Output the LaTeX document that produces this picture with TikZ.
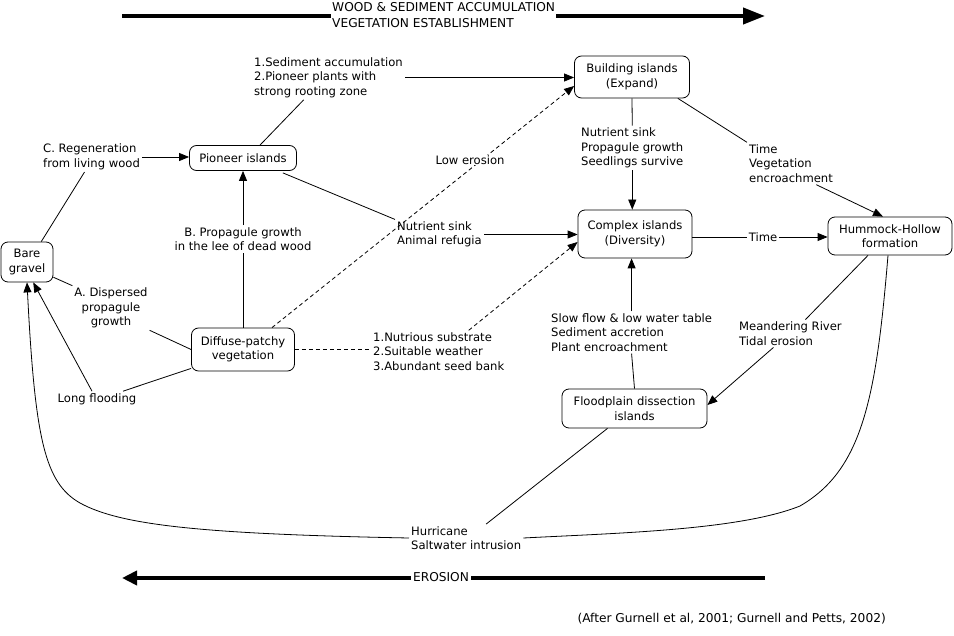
\documentclass[tikz,border=0pt]{standalone}
\usepackage{fontspec}
\setmainfont{DejaVu Sans}
\usetikzlibrary{arrows.meta,calc}
\begin{document}
\begin{tikzpicture}[x=1pt,y=-1pt,
  every node/.style={font=\fontsize{11.6}{14.5}\selectfont},
  box/.style={draw,rounded corners=7pt,line width=0.8pt,align=center,inner sep=0pt},
  lbl/.style={align=left,inner sep=2pt},
  lblc/.style={align=center,inner sep=2pt},
  wide/.style={font=\fontsize{12.2}{15.5}\selectfont},
  ln/.style={line width=0.8pt},
  arr/.style={ln,-{Triangle[length=10pt,width=8pt]}},
  dsh/.style={ln,dash pattern=on 4pt off 3pt},
  big/.style={line width=4pt},
]
\useasboundingbox (0,0) rectangle (954,636);
% boxes
\node[box,minimum width=52pt,minimum height=40pt] (bare) at (27,262) {Bare\\gravel};
\node[box,minimum width=107pt,minimum height=25pt] (pio) at (243,158) {Pioneer islands};
\node[box,minimum width=103pt,minimum height=43pt] (diff) at (243,349.5) {Diffuse-patchy\\vegetation};
\node[box,minimum width=115pt,minimum height=42pt] (build) at (632,77) {Building islands\\(Expand)};
\node[box,minimum width=114pt,minimum height=48pt] (cplx) at (635,234) {Complex islands\\(Diversity)};
\node[box,minimum width=124pt,minimum height=38pt] (hum) at (890,236) {Hummock-Hollow\\formation};
\node[box,minimum width=145pt,minimum height=39pt] (fp) at (634.5,408.5) {Floodplain dissection\\islands};
% labels
\node[lbl,anchor=west] (sedl) at (252,77.5) {1.Sediment accumulation\\2.Pioneer plants with\\strong rooting zone};
\node[lbl,anchor=west] (regen) at (41,157) {C. Regeneration\\from living wood};
\node[lblc] (propB) at (243,239) {B. Propagule growth\\in the lee of dead wood};
\node[lblc] (dispA) at (111,308) {A. Dispersed\\propagule\\growth};
\node[lbl] (flood) at (97,399) {Long flooding};
\node[lbl,anchor=west] (nums) at (371,351.5) {1.Nutrious substrate\\2.Suitable weather\\3.Abundant seed bank};
\node[lbl,anchor=west] (nsar) at (395,234.5) {Nutrient sink\\Animal refugia};
\node[lbl,anchor=west] (npsl) at (579,148) {Nutrient sink\\Propagule growth\\Seedlings survive};
\node[lbl,anchor=west] (tveg) at (747,163.5) {Time\\Vegetation\\encroachment};
\node[lbl] (time) at (763,237) {Time};
\node[lbl,anchor=west] (slow) at (549,332.5) {Slow flow \& low water table\\Sediment accretion\\Plant encroachment};
\node[lbl,anchor=west] (mrte) at (737,333.5) {Meandering River\\Tidal erosion};
\node[lbl,anchor=west] (hur) at (409,538) {Hurricane\\Saltwater intrusion};
\node[lbl,wide,anchor=east] (cite) at (888,619) {(After Gurnell et al, 2001; Gurnell and Petts, 2002)};
\node[lbl,wide,anchor=west,inner sep=1pt] (wood) at (331,15) {WOOD \& SEDIMENT ACCUMULATION\\VEGETATION ESTABLISHMENT};
\node[lbl,wide] (eros) at (441,577.5) {EROSION};
% big arrows
\coordinate (wl) at (122,16);
\coordinate (wr) at (765,16);
\draw[big] (wl) -- (wl -| wood.west);
\draw[big,-{Triangle[length=22pt,width=16pt]}] (wr -| wood.east) -- (wr);
\coordinate (er) at (765,578);
\coordinate (el) at (122,578);
\draw[big] (er) -- (er -| eros.east);
\draw[big,-{Triangle[length=15pt,width=14pt]}] (el -| eros.west) -- (el);
% connectors
\draw[arr] (regen.east) -- (regen.east -| pio.west);
\draw[ln] (bare.55) -- (regen.245);
\draw[ln] (sedl.222) -- ([xshift=17pt]pio.north);
\draw[arr] (sedl.east) -- (sedl.east -| build.west);
\draw[ln] (diff.north) -- (propB.south);
\draw[arr] (propB.north) -- (pio.south);
\draw[ln] (bare.-30) -- (dispA.150);
\draw[ln] (dispA.-30) -- (diff.west);
\draw[ln] (diff.200) -- ([xshift=26pt]flood.north);
\draw[arr] ([xshift=-5pt]flood.north) -- (bare.-73);
\draw[dsh,arr] ([xshift=29pt]diff.north) -- ([yshift=-9pt]build.west);
\draw[ln] ([xshift=-14pt,yshift=-2pt]pio.south east) -- (nsar.north west);
\draw[arr] (nsar.east) -- (nsar.east -| cplx.west);
\draw[dsh] (diff.east) -- (diff.east -| nums.west);
\draw[dsh,arr] ([xshift=30pt]nums.north) -- ([yshift=-8pt]cplx.west);
\draw[ln] (build.south) -- (npsl.north);
\draw[arr] (npsl.south) -- (npsl.south |- cplx.north);
\draw[ln] ([xshift=-12pt]build.south east) -- (tveg.north west);
\draw[arr] (tveg.-40) -- ([xshift=-7pt]hum.north);
\draw[ln] (time.west -| cplx.east) -- (time.west);
\draw[arr] (time.east) -- (time.east -| hum.west);
\draw[ln] (fp.north) -- (slow.south);
\draw[arr] (slow.north) -- (slow.north |- cplx.south);
\draw[ln] ([xshift=-22pt]hum.south) -- ([xshift=15pt]mrte.north);
\draw[arr] ([xshift=-17pt]mrte.south) -- ([yshift=3.5pt]fp.east);
\draw[ln] ([xshift=-27pt]fp.south) -- ([xshift=20pt]hur.north);
% long curves
\draw[arr] (hur.west) .. controls (200,534) and (120,525) .. (80,503)
  .. controls (45,483) and (35,440) .. (bare.south);
\draw[ln] ([xshift=-2pt]hum.south) .. controls (876,400) and (862,470) .. (800,506)
  .. controls (740,530) and (620,533) .. (hur.east);
% label over dashed line
\node[lbl,fill=white,inner sep=1pt] (lowe) at (470,160) {Low erosion};
\end{tikzpicture}
\end{document}
